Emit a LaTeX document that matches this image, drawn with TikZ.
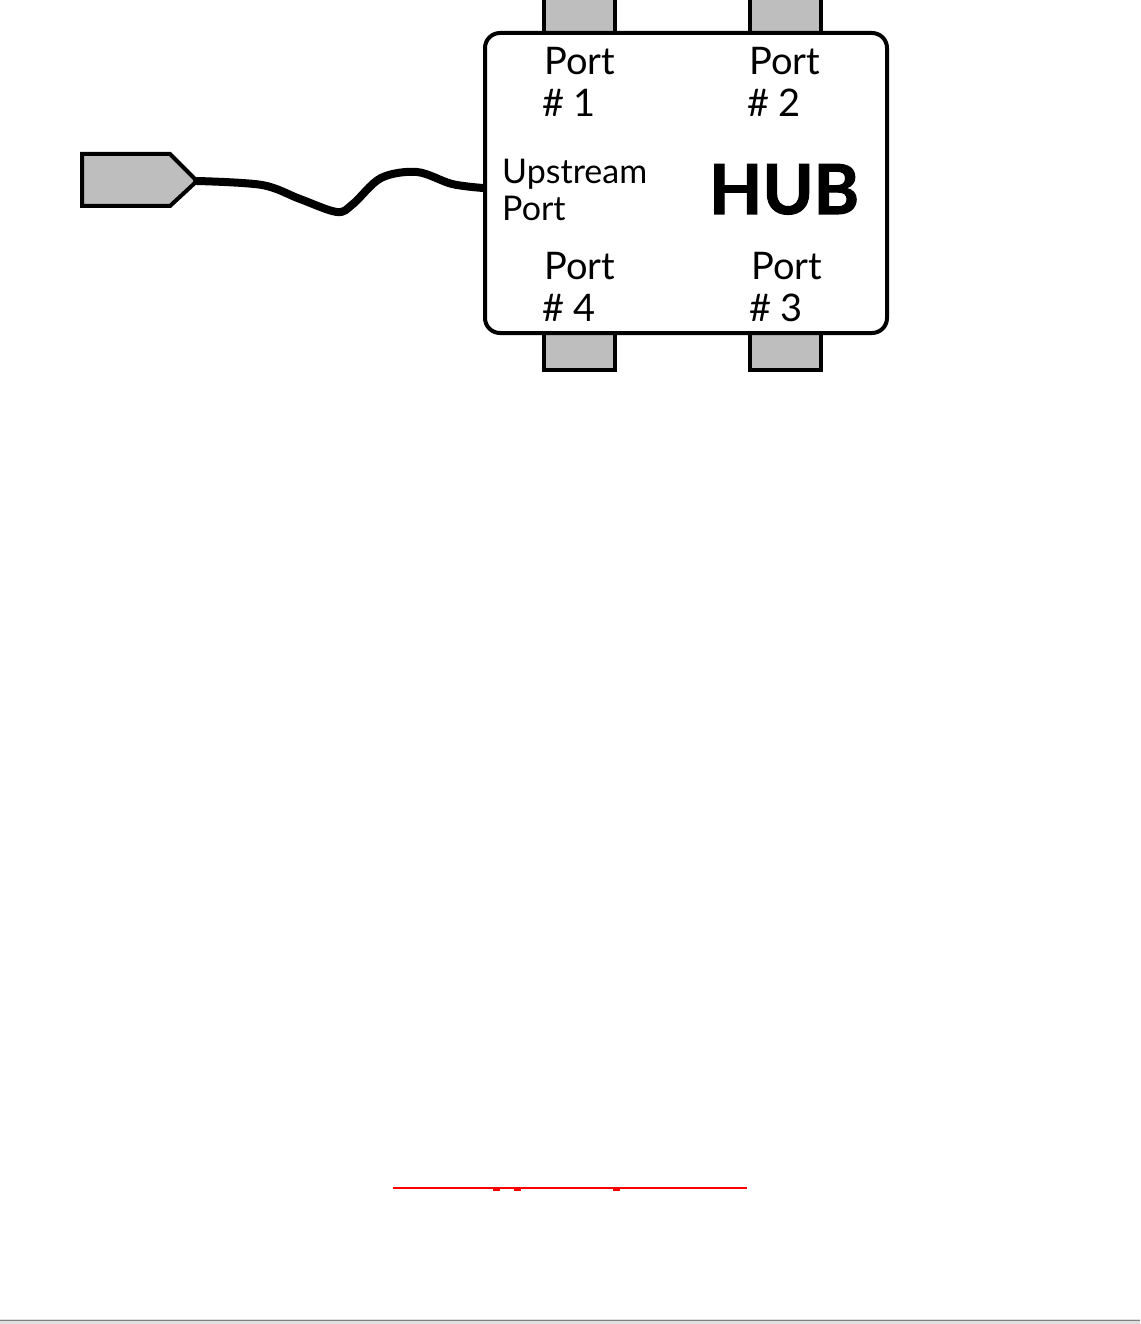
\documentclass[tikz,border=0pt]{standalone}
\usepackage{fontspec}
\setmainfont{Lato}
\newfontfamily\hubfont[BoldFeatures={FakeBold=1.6}]{Lato}
\definecolor{plugfill}{HTML}{BEBEBE}
\tikzset{
  tabbox/.style={draw=black, fill=plugfill, line width=4pt, minimum width=71pt, minimum height=38pt, inner sep=0pt},
  hubbox/.style={draw=black, fill=white, line width=4pt, rounded corners=15pt, minimum width=402pt, minimum height=300pt, inner sep=0pt},
  lbl/.style={anchor=base west, inner sep=0pt, font=\fontsize{38}{38}\selectfont},
  lblsmall/.style={anchor=base west, inner sep=0pt, font=\fontsize{34}{34}\selectfont},
  hubtext/.style={anchor=base west, inner sep=0pt, font=\hubfont\fontsize{69}{69}\selectfont\bfseries},
  cable/.style={draw=black, line width=8pt, line cap=round, line join=round},
  plugst/.style={draw=black, fill=plugfill, line width=4pt, line join=miter}
}
\begin{document}
\begin{tikzpicture}[x=1pt,y=-1pt]
\useasboundingbox (0,0) rectangle (1140,1324);
\fill[white] (0,0) rectangle (1140,1324);
% tabs
\node[tabbox] (t1) at (579.5,15) {};
\node[tabbox] (t2) at (785,15) {};
\node[tabbox] (t4) at (579.5,351) {};
\node[tabbox] (t3) at (785,351) {};
% hub box
\node[hubbox] (hub) at (686,183) {};
% labels
\node[lbl] (p1a) at (544,75) {Port};
\node[lbl] (p1b) at (542,117) {\# 1};
\node[lbl] (p2a) at (749,75) {Port};
\node[lbl] (p2b) at (747,117) {\# 2};
\node[lblsmall] (upa) at (502,184) {Upstream};
\node[lblsmall] (upb) at (502,221) {Port};
\node[lbl] (p4a) at (544,279) {Port};
\node[lbl] (p4b) at (542,321) {\# 4};
\node[lbl] (p3a) at (751,279) {Port};
\node[lbl] (p3b) at (749,321) {\# 3};
\node[hubtext] (hubt) at (709,214) {HUB};
% plug
\draw[plugst] (82,154) -- (170,154) -- (197,181) -- (170,206) -- (82,206) -- cycle;
\coordinate (plugtip) at (197,181);
\coordinate (upin) at ([yshift=-5pt]hub.west);
\draw[cable] plot[smooth, tension=0.55] coordinates {(plugtip) (262,185) (300,199) (337,212) (353,204) (381,178) (417,172) (452,184) (upin)};
% link underline
\coordinate (la) at (393,1188);
\coordinate (lb) at (747,1188);
\draw[red, line width=1.5pt] (la) -- (lb);
\fill[red] (493,1188) rectangle (500,1190.5);
\fill[red] (514,1188) rectangle (521,1190.5);
\fill[red] (613,1188) rectangle (620,1190.5);
% bottom rule
\fill[gray!25] (0,1318.5) rectangle (1140,1324);
\draw[gray, line width=1.5pt] (0,1320.5) -- (1140,1320.5);
\end{tikzpicture}
\end{document}
